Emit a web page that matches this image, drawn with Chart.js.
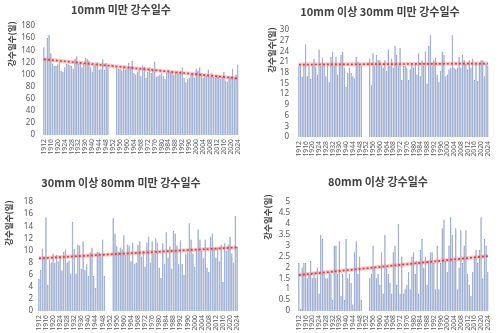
<!DOCTYPE html>
<html>
<head>
<meta charset="utf-8">
<script src="https://cdn.jsdelivr.net/npm/chart.js@4.4.1/dist/chart.umd.min.js"></script>
<style>
  html, body { margin:0; padding:0; background:#fff; }
  #wrap { position:relative; width:500px; height:333px; overflow:hidden; }
  .panel { position:absolute; }
</style>
</head>
<body>
<div id="wrap">
  <div class="panel" style="left:0;top:0;width:250px;height:165px"><canvas id="c1"></canvas></div>
  <div class="panel" style="left:250px;top:0;width:250px;height:165px"><canvas id="c2"></canvas></div>
  <div class="panel" style="left:0;top:165px;width:250px;height:168px"><canvas id="c3"></canvas></div>
  <div class="panel" style="left:250px;top:165px;width:250px;height:168px"><canvas id="c4"></canvas></div>
</div>
<script>
// ---- categories ----
const firstYear = 1912, lastYear = 2024;
const years = [];
for (let y = firstYear; y <= lastYear; y++) years.push(String(y));
const labelEvery = 4;

// ---- titles ----
const titles = ['10mm 미만 강수일수', '10mm 이상 30mm 미만 강수일수', '30mm 이상 80mm 미만 강수일수', '80mm 이상 강수일수'];
const axisTitle = '강수일수(일)';

// ---- series values (1912..2024, 1950-1953 missing) ----
const under10 = [
  145,127,160,165,135,118,114,114,117,120,
  106,104,112,118,117,115,114,110,126,130,
  118,121,112,118,127,126,123,112,105,115,
  114,120,108,110,125,108,119,112,null,null,
  null,null,111,109,110,107,112,108,110,119,
  113,122,103,100,105,108,97,115,113,95,
  104,112,103,106,121,96,98,100,102,98,
  93,103,107,105,103,100,102,104,101,106,
  112,95,87,93,95,100,103,95,110,106,
  112,102,95,100,98,108,97,102,96,94,
  99,97,93,96,104,90,88,97,96,110,
  95,100,116
];
const from10to30 = [
  20,20,16.8,20.5,26,17,20,16.3,20,22,
  19.8,17.5,24.5,20,22.3,20.5,17,20,15.5,22.5,
  24,20,22.6,17.5,20,23,24,19.5,14,18,
  19.5,18,17,16.5,22.5,21,20.5,20,null,null,
  null,null,22,14.5,23.5,20,23,21.5,21.5,20,
  19.5,21.5,18.5,24.5,20,22,19.5,25.5,23,20,
  25,16,20,20,19.5,16,19,20.5,19.5,20.5,
  17.5,23.5,17,21.5,20,24,15,25.5,28.5,20,
  21.5,22.3,17.5,15.5,18.5,24,23,17,17.5,19,
  19.5,28.5,19.5,19,19.5,22.5,19.5,23,21.5,20.5,
  19,21.5,19.5,22,16,20.5,15.8,20.5,21.5,21.5,
  17,20.5,20
];
const from30to80 = [
  5.3,6.8,10.3,9,15.5,4.3,8.5,8,9.5,8,
  9.3,8.2,9,6.7,9.8,10.2,8,8.3,6.2,14.7,
  10.3,6.2,11,10.8,7,11.5,6.8,7.7,5.8,9.7,
  10.5,5.8,3.8,9.8,9.7,9,11.8,5.8,null,null,
  null,null,15.3,12.8,10.7,9.8,10.5,10.2,12.5,9.3,
  11,10.8,8.2,11.3,7.8,8,11,11.5,9,10,
  7.3,11.3,12.3,8,11.5,9.5,12,11.3,7.2,5.5,
  11.2,7.8,13,8.8,10.7,7,13.2,12.8,10.8,7.7,
  11.7,7.8,6,9.5,9.7,14.5,11.8,9.5,7.3,10,
  13.5,11.8,10,8.7,11.8,7.2,6.5,12.3,12.8,10.5,
  8.8,10.5,8.2,11,4.8,11.2,10,11,12.2,9.5,
  8,15.7,10.6
];
const over80 = [
  2.2,0.1,2,2.2,2.2,1.5,1.7,2.3,1.5,1.8,
  1.5,2,0.8,3.5,3.3,1.7,1.5,1.5,1.8,1.7,
  0.5,3,3,1.7,3.2,0.7,1.7,0.5,3.3,1.5,
  1.7,1.3,0.3,2.7,3.2,1.7,2.5,0.5,null,null,
  null,null,1.5,1.7,3,2,1.5,1.7,1.2,2.7,
  0.8,3.5,2,1.7,1.3,0.8,2.7,3,1.2,4,
  0.8,2.5,0.8,1,1.2,1.8,1,2.5,2.7,1.7,
  2.3,0.8,2.8,3.3,2,2.5,1.2,2.3,2.7,2.7,
  2.2,1,3,1,2.2,3.8,4.2,2.3,1.8,3,
  4.3,3.5,2.3,3.8,1,2,3.7,2.2,3,3.7,
  1.7,1.2,0.7,1.8,2.5,2.8,2.2,2.8,4.3,1.5,
  3.3,3,1.8
];

// ---- linear trend end points (first year, last year) ----
const trendStart = [125, 20.3, 8.7, 1.65];
const trendEnd   = [93.5, 20.6, 10.5, 2.52];

// ---- y axis ticks ----
const yMax  = [180, 30, 18, 5];
const yStep = [20, 3, 2, 0.5];

const seriesList = [under10, from10to30, from30to80, over80];

// ---- layout (styles, not data) ----
const layouts = [
  { id:'c1', padTop:26, padRight:11, yW:43, xH:30, tp:8, tx:121, ty:10, ax:12, ay:44 },
  { id:'c2', padTop:30, padRight:5,  yW:48, xH:28, tp:9, tx:130, ty:12, ax:22, ay:50 },
  { id:'c3', padTop:37, padRight:12, yW:38, xH:22, tp:5, tx:121, ty:18, ax:9,  ay:58 },
  { id:'c4', padTop:37, padRight:4,  yW:48, xH:22, tp:8, tx:128, ty:17, ax:18, ay:52 }
];

const annot = {
  id: 'annot',
  afterDraw(chart, args, o) {
    const ctx = chart.ctx;
    ctx.save();
    ctx.fillStyle = '#404040';
    ctx.textAlign = 'center';
    ctx.textBaseline = 'middle';
    ctx.font = 'bold 11px "Noto Sans CJK KR", "Noto Sans", sans-serif';
    ctx.fillText(o.title, o.tx, o.ty);
    ctx.translate(o.ax, o.ay);
    ctx.rotate(-Math.PI / 2);
    ctx.font = 'bold 8.5px "Noto Sans CJK KR", "Noto Sans", sans-serif';
    ctx.fillText(o.axisTitle, 0, 0);
    ctx.restore();
  }
};

layouts.forEach((L, i) => {
  const vals = seriesList[i];
  const trend = years.map((_, k) => k === 0 ? trendStart[i] : (k === years.length - 1 ? trendEnd[i] : null));
  new Chart(document.getElementById(L.id), {
    type: 'bar',
    data: {
      labels: years,
      datasets: [
        {
          type: 'line', data: trend, spanGaps: true,
          borderColor: 'rgba(240,140,140,0.45)', borderWidth: 4,
          pointRadius: 0, order: 0
        },
        {
          type: 'line', data: trend, spanGaps: true,
          borderColor: '#C00000', borderWidth: 1.7, borderDash: [2, 2],
          pointRadius: 0, order: 0
        },
        {
          type: 'bar', data: vals,
          backgroundColor: '#9EB0D5', borderColor: '#7C90BF', borderWidth: 0.6,
          barPercentage: 0.88, categoryPercentage: 1.0, order: 1
        }
      ]
    },
    options: {
      responsive: true, maintainAspectRatio: false, animation: false,
      layout: { padding: { top: L.padTop, right: L.padRight, left: 0, bottom: 0 } },
      plugins: {
        legend: { display: false },
        tooltip: { enabled: false },
        title: { display: false },
        annot: { title: titles[i], axisTitle: axisTitle, tx: L.tx, ty: L.ty, ax: L.ax, ay: L.ay }
      },
      scales: {
        x: {
          grid: { display: false, drawTicks: false }, border: { display: false },
          afterFit(s) { s.height = L.xH; },
          ticks: {
            autoSkip: false, maxRotation: 90, minRotation: 90, padding: 4,
            color: '#595959', font: { size: 6.8, family: '"Noto Sans", sans-serif' },
            callback(v, idx) { return idx % labelEvery === 0 ? this.getLabelForValue(v) : ''; }
          }
        },
        y: {
          min: 0, max: yMax[i],
          grid: { display: false, drawTicks: false }, border: { display: false },
          afterFit(s) { s.width = L.yW; },
          ticks: {
            autoSkip: false, stepSize: yStep[i], padding: L.tp, color: '#595959',
            font: { size: 8, family: '"Noto Sans", sans-serif' },
            callback(v) { return String(v); }
          }
        }
      }
    },
    plugins: [annot]
  });
});
</script>
</body>
</html>
